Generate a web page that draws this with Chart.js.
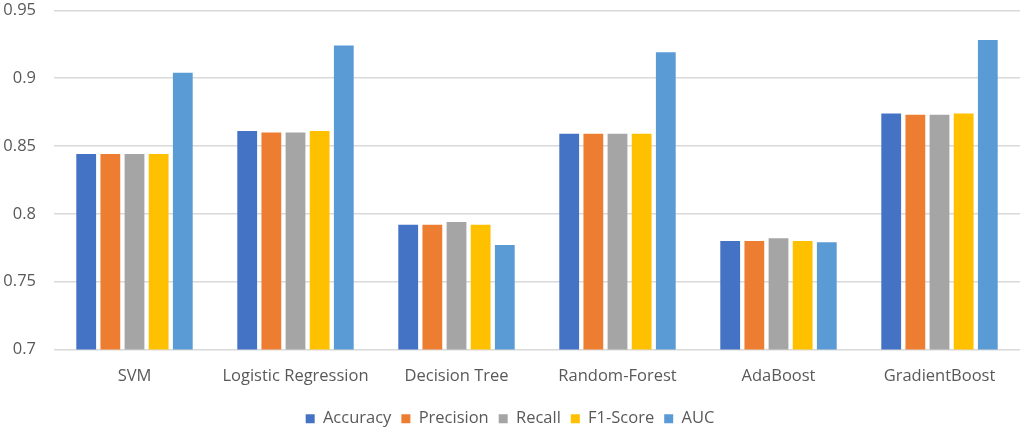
<!DOCTYPE html>
<html>
<head>
<meta charset="utf-8">
<script src="https://cdn.jsdelivr.net/npm/chart.js@4"></script>
<style>
  html, body { margin: 0; padding: 0; background: #fff; overflow: hidden; }
  /* chart.js keeps ~24px above the plot; pull the canvas up so the top gridline sits near y=8 */
  #wrap { width: 1026px; height: 444px; margin-top: -16px; }
</style>
</head>
<body>
<div id="wrap"><canvas id="grafica"></canvas></div>
<script>
var modelos = ['SVM', 'Logistic Regression', 'Decision Tree', 'Random-Forest', 'AdaBoost', 'GradientBoost'];
var accuracy = [0.844, 0.861, 0.792, 0.859, 0.780, 0.874];
var precision = [0.844, 0.860, 0.792, 0.859, 0.780, 0.873];
var recall = [0.844, 0.860, 0.794, 0.859, 0.782, 0.873];
var f1 = [0.844, 0.861, 0.792, 0.859, 0.780, 0.874];
var auc = [0.904, 0.924, 0.777, 0.919, 0.779, 0.928];

var fuente = "'Open Sans', 'Liberation Sans', sans-serif";

function serie(nombre, datos, color) {
    return {
        label: nombre,
        data: datos,
        backgroundColor: color,
        borderWidth: 0,
        categoryPercentage: 0.75,
        barPercentage: 0.82
    };
}

new Chart(document.getElementById('grafica').getContext('2d'), {
    type: 'bar',
    data: {
        labels: modelos,
        datasets: [
            serie('Accuracy', accuracy, '#4472c4'),
            serie('Precision', precision, '#ed7d31'),
            serie('Recall', recall, '#a5a5a5'),
            serie('F1-Score', f1, '#ffc000'),
            serie('AUC', auc, '#5b9bd5')
        ]
    },
    options: {
        responsive: true,
        maintainAspectRatio: false,
        animation: false,
        layout: { padding: { top: 0, right: 6, left: 0, bottom: -9 } },
        plugins: {
            legend: {
                position: 'bottom',
                labels: {
                    boxWidth: 9,
                    boxHeight: 9,
                    padding: 10,
                    color: '#595959',
                    font: { family: fuente, size: 16.5 }
                }
            },
            tooltip: { enabled: false }
        },
        scales: {
            x: {
                grid: { display: false, drawTicks: false },
                border: { display: false },
                ticks: { color: '#595959', padding: 23, font: { family: fuente, size: 16.5, lineHeight: 0.5 } },
                afterFit: function (s) { s.height = 51; }
            },
            y: {
                min: 0.7,
                max: 0.95,
                grid: { color: '#d9d9d9', lineWidth: 1.5, drawTicks: false },
                border: { display: false },
                ticks: {
                    stepSize: 0.05,
                    padding: 18,
                    color: '#595959',
                    font: { family: fuente, size: 16.5, lineHeight: 1 },
                    callback: function (v) { return parseFloat(v.toFixed(2)).toString(); }
                },
                afterFit: function (s) { s.width = 54; }
            }
        }
    }
});
</script>
</body>
</html>
